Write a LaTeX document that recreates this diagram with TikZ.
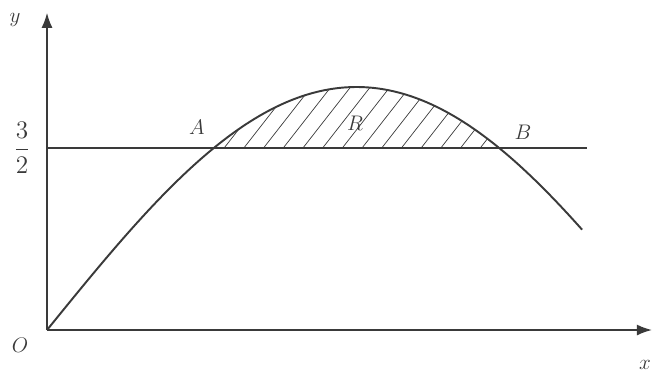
\documentclass[tikz,border=0pt]{standalone}
\usepackage{amsmath}
\usetikzlibrary{arrows.meta}
\definecolor{ink}{HTML}{3A3A3A}
\begin{document}
\begin{tikzpicture}[x=3.94cm,y=2.43cm,font=\large,
  axis/.style={ink,line width=0.8pt,-{Latex[length=3mm,width=2.2mm]}},
  lbl/.style={inner sep=0pt,ink}]
\useasboundingbox (-0.2386,-0.3786) rectangle (3.091,2.716);
\coordinate (O) at (0,0);
\coordinate (xend) at (3.07,0);
\coordinate (yend) at (0,2.61);
\coordinate (A) at (0.8481,1.5);
\coordinate (B) at (2.2935,1.5);
\coordinate (lstart) at (0,1.5);
\coordinate (lend) at (2.74,1.5);
% hatched region R
\begin{scope}
\clip (A) -- plot[domain=0.8481:2.2935,samples=40] (\x,{2*sin(\x r)}) -- cycle;
\foreach \t in {0.60,0.70,...,2.40}{\draw[ink,line width=0.4pt] (\t,1.5) -- ++(52:2cm);}
\end{scope}
\draw[axis] (O) -- (xend);
\draw[axis] (O) -- (yend);
\draw[ink,line width=1pt] (lstart) -- (lend);
\draw[ink,line width=1.1pt] plot[domain=0:2.716,samples=80,smooth] (\x,{2*sin(\x r)});
\node[lbl] (labO) at (-0.137,-0.123) {$O$};
\node[lbl] (labx) at (3.035,-0.288) {$x$};
\node[lbl] (laby) at (-0.162,2.55) {$y$};
\node[lbl,font=\Large] (labh) at (-0.127,1.5) {$\dfrac{3}{2}$};
\node[lbl] (labA) at (0.761,1.67) {$A$};
\node[lbl] (labR) at (1.563,1.70) {$R$};
\node[lbl] (labB) at (2.416,1.63) {$B$};
\end{tikzpicture}
\end{document}
